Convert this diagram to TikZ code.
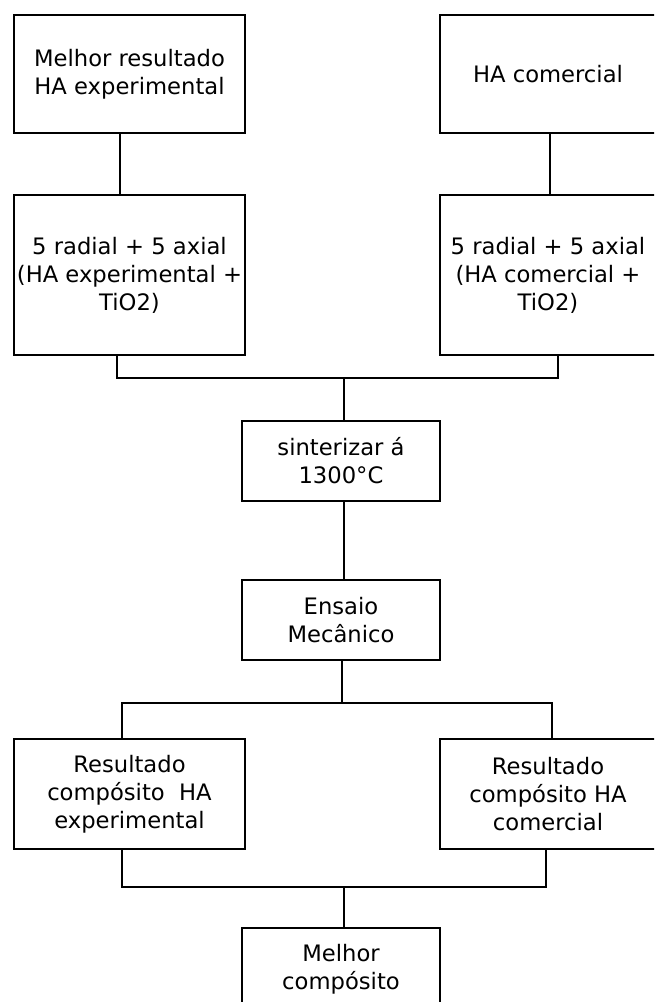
\documentclass[tikz,border=0pt]{standalone}
\usepackage{fontspec}
\setsansfont{DejaVu Sans}

\begin{document}
\begin{tikzpicture}[x=0.75pt,y=-0.75pt,
  caixa/.style={draw, line width=1.4pt, align=center, inner sep=0pt,
    font=\sffamily\fontsize{17}{21}\selectfont},
  lado/.style={caixa, minimum width=173pt},
  direita/.style={caixa, minimum width=162pt},
  meio/.style={caixa, minimum width=148.5pt},
  liga/.style={line width=1.4pt}]
\useasboundingbox (0,0) rectangle (654,1002);
\clip (0,0) rectangle (654,1002);

% inicio
\node[lado, minimum height=88.5pt] (melhorHA) at (129.5,74) {Melhor resultado\\HA experimental};
\node[direita, minimum height=88.5pt] (HAcom) at (548,74) {HA comercial};
\node[lado, minimum height=120pt] (mistExp) at (129.5,275) {5 radial + 5 axial\\(HA experimental +\\TiO2)};
\node[direita, minimum height=120pt] (mistCom) at (548,275) {5 radial + 5 axial\\(HA comercial +\\TiO2)};

% processo
\node[meio, minimum height=60pt] (sinter) at (341,461) {sinterizar á\\1300°C};
\node[meio, minimum height=60pt] (ensaio) at (341,620) {Ensaio\\Mecânico};

% resultados
\node[lado, minimum height=82.5pt] (resExp) at (129.5,794) {Resultado\\compósito~~HA\\experimental};
\node[direita, minimum height=82.5pt] (resCom) at (548,794) {Resultado\\compósito HA\\comercial};
\node[meio, minimum height=61.5pt] (melhorComp) at (341,969) {Melhor\\compósito};

\coordinate (j1) at (344,378);
\coordinate (j2) at (342,703);
\coordinate (j3) at (344,887);

\draw[liga] ([xshift=-7pt]melhorHA.south) -- ([xshift=-7pt]mistExp.north);
\draw[liga] ([xshift=1.5pt]HAcom.south) -- ([xshift=1.5pt]mistCom.north);

\draw[liga] ([xshift=-9.5pt]mistExp.south) |- (j1) -| ([xshift=7.5pt]mistCom.south);
\draw[liga] (j1) -- (j1 |- sinter.north);
\draw[liga] (sinter.south -| j1) -- (ensaio.north -| j1);

\draw[liga] (ensaio.south -| j2) -- (j2);
\draw[liga] ([xshift=-5.5pt]resExp.north) |- (j2) -| ([xshift=3pt]resCom.north);

\draw[liga] ([xshift=-5.5pt]resExp.south) |- (j3) -| ([xshift=-1.5pt]resCom.south);
\draw[liga] (j3) -- (j3 |- melhorComp.north);
\end{tikzpicture}
\end{document}
